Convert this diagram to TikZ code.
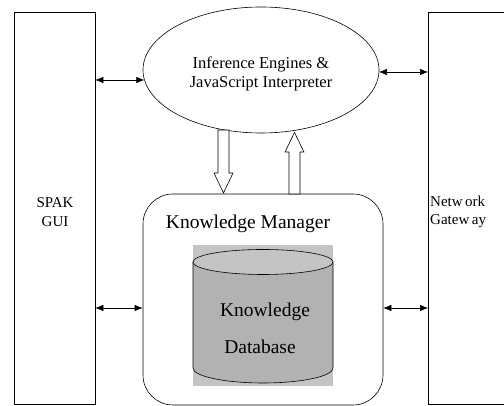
\documentclass[tikz,border=0pt]{standalone}
\usepackage{fontspec}
\setmainfont{Liberation Serif}
\usetikzlibrary{arrows.meta,shapes.geometric}
\definecolor{dbtop}{RGB}{196,196,196}
\definecolor{dbbody}{RGB}{178,178,178}
\tikzset{
  blk/.style={draw, line width=0.6pt},
  link/.style={line width=0.6pt, {Latex[length=8pt,width=6.5pt]}-{Latex[length=8pt,width=6.5pt]}},
  hollow/.style={draw, line width=0.6pt, fill=white},
}
\begin{document}
\begin{tikzpicture}[x=1pt,y=1pt]
\useasboundingbox (0,0) rectangle (504,406);
\clip (0,0) rectangle (504,406);
% side boxes
\node[blk, minimum width=81pt, minimum height=392pt, inner sep=0pt] (gui) at (54.5,198) {};
\node[blk, minimum width=92pt, minimum height=392pt, inner sep=0pt, anchor=west] (net) at (428,198) {};
\node[font=\fontsize{15}{18.5}\selectfont, align=center] (guit) at (55,194) {SPAK\\GUI};
\node[font=\fontsize{15}{18.5}\selectfont, align=left, anchor=west, inner sep=0pt] (nett) at (430,194) {Netw\,ork\\Gatew\,ay};
% ellipse
\node[blk, ellipse, minimum width=236pt, minimum height=126pt, inner sep=0pt] (ell) at (261,336) {};
\node[font=\fontsize{16.5}{18.5}\selectfont, align=center] (ellt) at (261,332) {Inference Engines \&\\JavaScript Interpreter};
% manager
\node[blk, rounded corners=30pt, minimum width=240pt, minimum height=211pt, inner sep=0pt] (km) at (263,106.5) {};
\node[font=\fontsize{19.5}{22}\selectfont] (kmt) at (248,182) {Knowledge Manager};
% database
\fill[dbtop] (193,20) rectangle (333,161);
\coordinate (dbtl) at (193,144);
\coordinate (dbbl) at (193,38);
\filldraw[fill=dbbody, line width=0.6pt] (dbtl) -- (dbbl) arc[start angle=180, end angle=360, x radius=70, y radius=15] -- (333,144) -- cycle;
\filldraw[fill=dbtop, line width=0.6pt] (263,144) ellipse[x radius=70, y radius=12.5];
\node[font=\fontsize{19.5}{22}\selectfont] (dbt1) at (265,94) {Knowledge};
\node[font=\fontsize{19.5}{22}\selectfont] (dbt2) at (260,59) {Database};
% hollow arrows
\path[hollow] (218,276) -- (218,233) -- (214,233) -- (223.5,213) -- (233,233) -- (229,233) -- (229,276) -- cycle;
\path[hollow] (289,212) -- (289,254) -- (285,254) -- (294.5,273.5) -- (304,254) -- (300,254) -- (300,212) -- cycle;
% double arrows
\coordinate (a1) at (gui.east |- 0,326);
\coordinate (a2) at (144.3,326);
\draw[link] (a1) -- (a2);
\coordinate (a3) at (379,334);
\coordinate (a4) at (net.west |- 0,334);
\draw[link] (a3) -- (a4);
\draw[link] (gui.east |- 0,98) -- (km.west |- 0,98);
\draw[link] (km.east |- 0,98) -- (net.west |- 0,98);
\end{tikzpicture}
\end{document}
